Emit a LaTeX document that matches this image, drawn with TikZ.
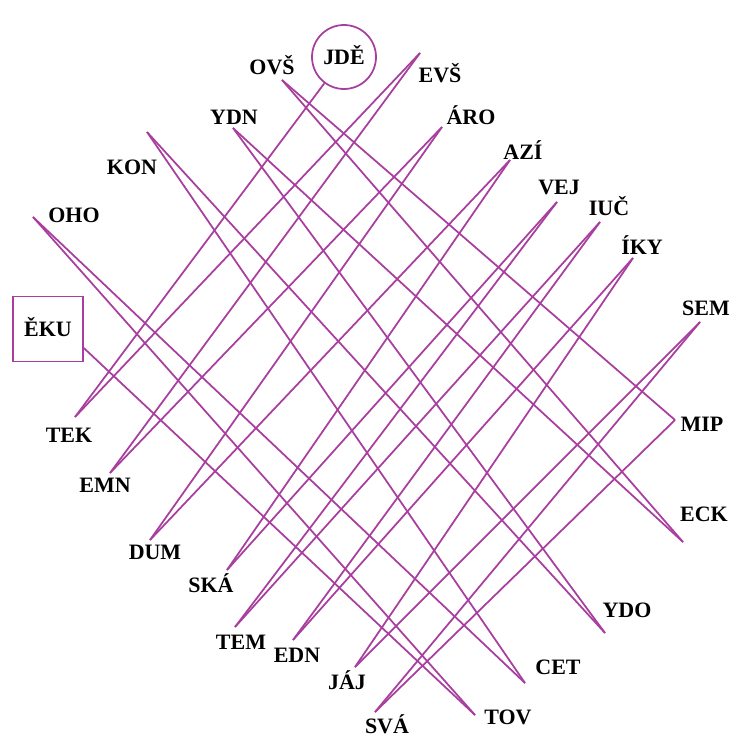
\documentclass[tikz,border=0pt]{standalone}
\usepackage{fontspec}
\setmainfont{Liberation Serif}
\definecolor{chainpurple}{RGB}{168,62,158}

\begin{document}
\begin{tikzpicture}[x=0.2mm, y=-0.2mm,
  word/.style={font=\fontsize{12.5}{14}\selectfont\bfseries, inner sep=0pt,
               text height=8pt, text depth=0pt},
  link/.style={chainpurple, line width=1pt},
  startnode/.style={word, draw=chainpurple, line width=1pt, circle,
                    minimum size=12.8mm},
  endnode/.style={word, draw=chainpurple, line width=1pt, rectangle,
                  minimum width=14mm, minimum height=13mm}
]
  \useasboundingbox (0,0) rectangle (737,737);

  % start and end
  \node[startnode] (jde) at (344,57) {JDĚ};
  \node[endnode]   (eku) at (48,329) {ĚKU};

  % line ends
  \coordinate (tek) at (75,417);   \coordinate (evs) at (420,53);
  \coordinate (emn) at (110,473);  \coordinate (aro) at (442,127);
  \coordinate (dum) at (150,540);  \coordinate (azi) at (510,160);
  \coordinate (ska) at (227,570);  \coordinate (vej) at (557,202);
  \coordinate (tem) at (235,627);  \coordinate (iuc) at (600,222);
  \coordinate (edn) at (293,640);  \coordinate (iky) at (633,258);
  \coordinate (jaj) at (355,667);  \coordinate (sem) at (700,322);
  \coordinate (sva) at (375,712);  \coordinate (mip) at (675,420);
  \coordinate (ovs) at (282,80);   \coordinate (eck) at (683,542);
  \coordinate (ydn) at (233,128);  \coordinate (ydo) at (605,633);
  \coordinate (kon) at (147,132);  \coordinate (cet) at (525,683);
  \coordinate (oho) at (33,217);   \coordinate (tov) at (475,715);

  % words
  \node[word] (ovsl) at (272,67)  {OVŠ};
  \node[word] (evsl) at (440,75)  {EVŠ};
  \node[word] (ydnl) at (234,117) {YDN};
  \node[word] (arol) at (471,117) {ÁRO};
  \node[word] (konl) at (132,167) {KON};
  \node[word] (azil) at (523,152) {AZÍ};
  \node[word] (ohol) at (74,215)  {OHO};
  \node[word] (vejl) at (559,187) {VEJ};
  \node[word] (iucl) at (609,208) {IUČ};
  \node[word] (ikyl) at (642,247) {ÍKY};
  \node[word] (seml) at (706,308) {SEM};
  \node[word] (mipl) at (702,424) {MIP};
  \node[word] (tekl) at (69,435)  {TEK};
  \node[word] (eckl) at (704,514) {ECK};
  \node[word] (emnl) at (105,485) {EMN};
  \node[word] (duml) at (155,552) {DUM};
  \node[word] (ydol) at (627,610) {YDO};
  \node[word] (skal) at (211,585) {SKÁ};
  \node[word] (cetl) at (558,667) {CET};
  \node[word] (teml) at (241,642) {TEM};
  \node[word] (ednl) at (297,655) {EDN};
  \node[word] (jajl) at (347,682) {JÁJ};
  \node[word] (sval) at (387,726) {SVÁ};
  \node[word] (tovl) at (508,717) {TOV};

  % the chain
  \draw[link] (jde) -- (tek);  \draw[link] (tek) -- (evs);  \draw[link] (evs) -- (emn);
  \draw[link] (emn) -- (aro);  \draw[link] (aro) -- (dum);  \draw[link] (dum) -- (azi);
  \draw[link] (azi) -- (ska);  \draw[link] (ska) -- (vej);  \draw[link] (vej) -- (tem);
  \draw[link] (tem) -- (iuc);  \draw[link] (iuc) -- (edn);  \draw[link] (edn) -- (iky);
  \draw[link] (iky) -- (jaj);  \draw[link] (jaj) -- (sem);  \draw[link] (sem) -- (sva);
  \draw[link] (sva) -- (mip);  \draw[link] (mip) -- (ovs);  \draw[link] (ovs) -- (eck);
  \draw[link] (eck) -- (ydn);  \draw[link] (ydn) -- (ydo);  \draw[link] (ydo) -- (kon);
  \draw[link] (kon) -- (cet);  \draw[link] (cet) -- (oho);  \draw[link] (oho) -- (tov);
  \draw[link] (tov) -- (eku.-28);

\end{tikzpicture}
\end{document}
